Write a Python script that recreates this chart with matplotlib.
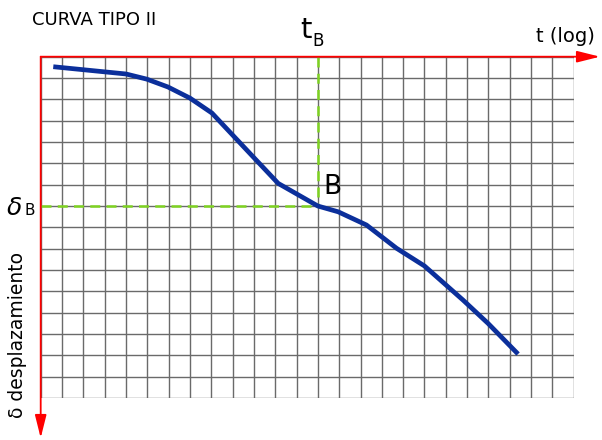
import numpy as np
import matplotlib.pyplot as plt

# curva (unidades de cuadricula, eje y hacia abajo)
t_vals = [0.59, 4.0, 4.97, 5.97, 7.0, 8.03, 9.81, 11.14, 13.0, 13.95, 15.28, 16.69, 18.0, 19.81, 20.98, 22.39]
d_vals = [0.47, 0.81, 1.05, 1.42, 1.94, 2.64, 4.53, 5.94, 7.0, 7.27, 7.89, 8.98, 9.81, 11.41, 12.5, 13.94]
ncols = 25
nrows = 16
tB = 13
dB = 7

W, H = 602, 440
fig = plt.figure(figsize=(W / 100, H / 100), dpi=100)
x0, y0, x1, y1 = 40.7, 56.7, 573.7, 398.0
ax = fig.add_axes([x0 / W, 1 - y1 / H, (x1 - x0) / W, (y1 - y0) / H])
ax.set_xlim(0, ncols)
ax.set_ylim(nrows, 0)
ax.set_xticks(np.arange(ncols + 1))
ax.set_yticks(np.arange(nrows + 1))
ax.tick_params(length=0, labelbottom=False, labelleft=False)
ax.grid(True, color="#6a6a6a", lw=1)
for s in ax.spines.values():
    s.set_visible(False)
ax.set_axisbelow(True)

# bordes rojos con flechas
ax.annotate("", xy=(600 / W, 1 - y0 / H), xycoords="figure fraction",
            xytext=(x0 / W, 1 - y0 / H), textcoords="figure fraction",
            arrowprops=dict(arrowstyle="-|>,head_length=1.4,head_width=0.35", color="red", lw=1.3, shrinkA=0, shrinkB=0))
ax.annotate("", xy=(x0 / W, 1 - 438 / H), xycoords="figure fraction",
            xytext=(x0 / W, 1 - y0 / H), textcoords="figure fraction",
            arrowprops=dict(arrowstyle="-|>,head_length=1.4,head_width=0.35", color="red", lw=1.3, shrinkA=0, shrinkB=0))

# lineas guia
ax.plot([tB, tB], [0, dB], color="#7ed321", lw=1.8, ls=(0, (4, 2.5)), clip_on=False)
ax.plot([0, tB], [dB, dB], color="#7ed321", lw=1.8, ls=(0, (4, 2.5)), clip_on=False)

ax.plot(t_vals, d_vals, color="#0b2f9b", lw=3.4, solid_capstyle="butt", solid_joinstyle="round", zorder=5)

fig.text(32 / W, 1 - 20 / H, "CURVA TIPO II", fontsize=13, va="center", ha="left")
fig.text(300 / W, 1 - 38 / H, "t", fontsize=21, va="baseline", ha="left")
fig.text(312 / W, 1 - 46 / H, "B", fontsize=12, va="baseline", ha="left")
fig.text(536 / W, 1 - 36 / H, "t (log)", fontsize=14, va="center", ha="left")
fig.text(323 / W, 1 - 194 / H, "B", fontsize=19, va="baseline", ha="left")
fig.text(7 / W, 1 - 215 / H, "δ", fontsize=18, va="baseline", ha="left", style="italic")
fig.text(25 / W, 1 - 215 / H, "B", fontsize=11, va="baseline", ha="left")
fig.text(18 / W, 1 - 335 / H, "δ desplazamiento", fontsize=13.5, rotation=90, va="center", ha="center")

fig.savefig("out.png", dpi=100)
